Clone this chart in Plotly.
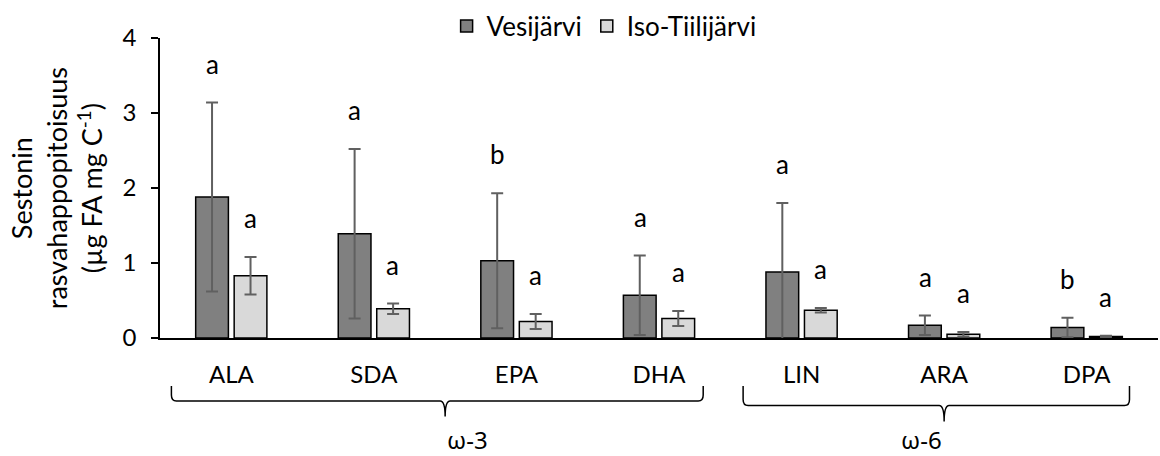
import plotly.graph_objects as go

categories = ["ALA", "SDA", "EPA", "DHA", "LIN", "ARA", "DPA"]
vesi_mean = [1.88, 1.39, 1.03, 0.57, 0.88, 0.17, 0.14]
vesi_err = [1.26, 1.13, 0.90, 0.53, 0.92, 0.13, 0.13]
iso_mean = [0.83, 0.39, 0.22, 0.26, 0.37, 0.05, 0.02]
iso_err = [0.25, 0.07, 0.10, 0.10, 0.03, 0.03, 0.01]
vesi_letters = ["a", "a", "b", "a", "a", "a", "b"]
iso_letters = ["a", "a", "a", "a", "a", "a", "a"]
groups = [("ω-3", 0, 3), ("ω-6", 4, 6)]
y_ticks = [0, 1, 2, 3, 4]

FONT = "Lato"
FS = 24
ERRC = "#606060"

fig = go.Figure()
fig.add_trace(go.Bar(
    name="Vesijärvi", x=categories, y=vesi_mean,
    marker=dict(color="#808080", line=dict(color="black", width=1.5)),
    error_y=dict(type="data", array=vesi_err, visible=True, color=ERRC, thickness=2, width=6),
))
fig.add_trace(go.Bar(
    name="Iso-Tiilijärvi", x=categories, y=iso_mean,
    marker=dict(color="#d9d9d9", line=dict(color="black", width=1.5)),
    error_y=dict(type="data", array=iso_err, visible=True, color=ERRC, thickness=2, width=6),
))

annotations = []
for i, c in enumerate(categories):
    annotations.append(dict(x=c, y=vesi_mean[i] + vesi_err[i], xref="x", yref="y", text=vesi_letters[i],
                            showarrow=False, xshift=-19, yshift=39, yanchor="middle",
                            font=dict(family=FONT, size=26, color="black")))
    annotations.append(dict(x=c, y=iso_mean[i] + iso_err[i], xref="x", yref="y", text=iso_letters[i],
                            showarrow=False, xshift=19, yshift=39, yanchor="middle",
                            font=dict(family=FONT, size=26, color="black")))

n = len(categories)
def px(idx):
    return (idx + 0.5) / n

shapes = []
brace_defs = [(-0.42, 3.31, -0.16, -0.21, -0.262), (3.59, 6.30, -0.16, -0.225, -0.278)]
for (lbl, a, b), (x0, x1, ytop, ymid, ytip) in zip(groups, brace_defs):
    xm = px((a + b) / 2)
    xl, xr = px(x0), px(x1)
    path = (f"M{xl},{ytop} L{xl},{ymid + 0.02} Q{xl},{ymid} {xl + 0.005},{ymid} L{xm - 0.005},{ymid} "
            f"Q{xm},{ymid} {xm},{ytip} Q{xm},{ymid} {xm + 0.005},{ymid} "
            f"L{xr - 0.005},{ymid} Q{xr},{ymid} {xr},{ymid + 0.02} L{xr},{ytop}")
    shapes.append(dict(type="path", xref="paper", yref="paper", path=path,
                       line=dict(color="black", width=1.5)))
    annotations.append(dict(x=xm, y=-0.338, xref="paper", yref="paper", text=lbl, showarrow=False,
                            yanchor="middle", font=dict(family="Noto Sans", size=24, color="black")))

annotations.append(dict(x=-0.104, y=0.5, xref="paper", yref="paper",
                        text="Sestonin<br>rasvahappopitoisuus<br>(µg FA mg C<sup>-1</sup>)",
                        textangle=-90, showarrow=False, xanchor="center", yanchor="middle",
                        font=dict(family=FONT, size=27, color="black")))

fig.update_layout(
    width=1160, height=456,
    margin=dict(l=160, r=2, t=36, b=118),
    paper_bgcolor="white", plot_bgcolor="white",
    barmode="group", bargap=0.46, bargroupgap=0.15,
    font=dict(family=FONT, size=FS, color="black"),
    showlegend=True,
    legend=dict(orientation="h", x=0.445, xanchor="center", y=1.04, yanchor="middle",
                font=dict(family=FONT, size=26), itemwidth=30, bgcolor="rgba(0,0,0,0)"),
    annotations=annotations,
    shapes=shapes,
)
fig.update_xaxes(showline=True, linecolor="black", linewidth=1.5, ticks="", showgrid=False,
                 tickfont=dict(family=FONT, size=FS), ticklabelstandoff=14)
fig.update_yaxes(range=[0, 4], tickvals=y_ticks, showline=True, linecolor="black", linewidth=1.5,
                 ticks="outside", ticklen=7, tickcolor="black", tickwidth=1.5, showgrid=False,
                 zeroline=False, tickfont=dict(family=FONT, size=FS), ticklabelstandoff=10)

fig.write_html("out.html")
